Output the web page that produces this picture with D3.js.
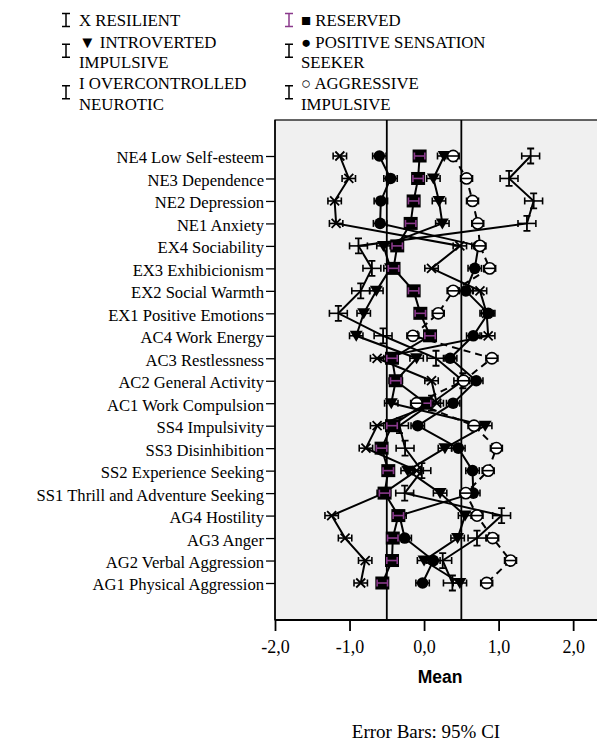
<!DOCTYPE html>
<html><head><meta charset="utf-8">
<script src="https://cdn.jsdelivr.net/npm/d3@7"></script>
<style>body{margin:0;background:#fff;} svg{display:block;}</style>
</head><body>
<svg id="chart" width="597" height="741"></svg>
<script>
// ---------- data ----------
const categories = ["NE4 Low Self-esteem","NE3 Dependence","NE2 Depression","NE1 Anxiety",
  "EX4 Sociability","EX3 Exhibicionism","EX2 Social Warmth","EX1 Positive Emotions",
  "AC4 Work Energy","AC3 Restlessness","AC2 General Activity","AC1 Work Compulsion",
  "SS4 Impulsivity","SS3 Disinhibition","SS2 Experience Seeking","SS1 Thrill and Adventure Seeking",
  "AG4 Hostility","AG3 Anger","AG2 Verbal Aggression","AG1 Physical Aggression"];

const resilient      = [-1.13,-1.01,-1.20,-1.18, 0.48, 0.10, 0.75, 0.84, 0.86,-0.63, 0.10, 0.17,-0.63,-0.78,-0.10,-0.54,-1.24,-1.06,-0.79,-0.85];
const introverted    = [ 0.27, 0.125,0.20, 0.245,-0.545,-0.45,-0.64,-0.81,-0.91,-0.10,-0.38,-0.44, 0.82, 0.28,-0.22, 0.215,0.55, 0.45, 0.00, 0.48];
const overcontrolled = [ 1.43, 1.14, 1.47, 1.38,-0.88,-0.70,-0.85,-1.15,-0.55, 0.16, 0.52, 0.10,-0.33,-0.255,-0.03,-0.26, 1.04, 0.71, 0.25, 0.38];
const sensation      = [-0.60,-0.45,-0.58,-0.59, 0.73, 0.68, 0.56, 0.86, 0.66, 0.35, 0.70, 0.39,-0.085,0.46, 0.65, 0.66,-0.33,-0.26, 0.125,-0.02];
const reserved       = [-0.06,-0.08,-0.14,-0.18,-0.36,-0.41,-0.14,-0.05, 0.08,-0.43,-0.38, 0.02,-0.43,-0.57,-0.48,-0.53,-0.345,-0.42,-0.43,-0.56];
const aggressive     = [ 0.39, 0.57, 0.65, 0.72, 0.75, 0.88, 0.39, 0.19,-0.15, 0.91, 0.53,-0.10, 0.67, 0.97, 0.86, 0.56, 0.71, 0.92, 1.16, 0.84];

// approximate 95% CI half-width per series
const ciResilient = 0.09, ciIntroverted = 0.09, ciOvercontrolled = 0.12, ciSensation = 0.09, ciReserved = 0.07, ciAggressive = 0.08;

const xTicks = [-2, -1, 0, 1, 2];
const refLines = [-0.5, 0.5];

const legendCol1 = [["X RESILIENT"], ["\u25BC INTROVERTED","IMPULSIVE"], ["I OVERCONTROLLED","NEUROTIC"]];
const legendCol2 = [["\u25A0 RESERVED"], ["\u25CF POSITIVE SENSATION","SEEKER"], ["\u25CB AGGRESSIVE","IMPULSIVE"]];

// ---------- setup ----------
const svg = d3.select("#chart");
const purple = "#8a3a8c";
const serif = "'Liberation Serif','Times New Roman',serif";
const pLeft = 275, pTop = 120, pBottom = 620, pRight = 597;
const x = d3.scaleLinear().domain([-2, 2.32]).range([pLeft, pRight]);
const y = d3.scalePoint().domain(categories).range([156, 583]);

const series = [
  {vals: resilient, ci: ciResilient, mk: "cross", bar: "#000"},
  {vals: introverted, ci: ciIntroverted, mk: "tri", bar: "#000"},
  {vals: overcontrolled, ci: ciOvercontrolled, mk: "ibeam", bar: "#000"},
  {vals: sensation, ci: ciSensation, mk: "dot", bar: "#000"},
  {vals: reserved, ci: ciReserved, mk: "square", bar: purple},
  {vals: aggressive, ci: ciAggressive, mk: "ring", bar: "#000", dashed: true}
];

// plot background
svg.append("rect").attr("x", pLeft).attr("y", pTop).attr("width", pRight - pLeft + 10).attr("height", pBottom - pTop)
  .attr("fill", "#f0f0f0").attr("stroke", "#000").attr("stroke-width", 1.2);

// reference lines
svg.selectAll(".ref").data(refLines).join("line")
  .attr("x1", d => x(d)).attr("x2", d => x(d)).attr("y1", pTop).attr("y2", pBottom)
  .attr("stroke", "#000").attr("stroke-width", 1.8);

// left category axis
const yAxis = d3.axisLeft(y).tickSize(9).tickPadding(2);
const gy = svg.append("g").attr("transform", `translate(${pLeft},0)`).call(yAxis);
gy.select(".domain").attr("stroke", "#000").attr("stroke-width", 1.5).attr("d", `M0,${pTop}V${pBottom}`);
gy.selectAll(".tick line").attr("stroke", "#000").attr("stroke-width", 1.3);
gy.selectAll(".tick text").attr("font-family", serif)
  .attr("font-size", 16.6).attr("fill", "#000").attr("dy", "0.42em");

// bottom axis
const xAxis = d3.axisBottom(x).tickValues(xTicks).tickSize(11).tickPadding(9)
  .tickFormat(d => (d < 0 ? "-" : "") + Math.abs(d).toFixed(1).replace(".", ","));
const gx = svg.append("g").attr("transform", `translate(0,${pBottom})`).call(xAxis);
gx.select(".domain").attr("stroke", "#000").attr("stroke-width", 1.8).attr("d", `M${pLeft},0H${pRight}`);
gx.selectAll(".tick line").attr("stroke", "#000").attr("stroke-width", 1.8);
gx.selectAll(".tick text").attr("font-family", serif)
  .attr("font-size", 18).attr("fill", "#000");

svg.append("text").attr("x", 440).attr("y", 683).attr("text-anchor", "middle")
  .attr("font-family", "'Liberation Sans',Arial,sans-serif").attr("font-weight", "bold").attr("font-size", 17.5)
  .text("Mean");
svg.append("text").attr("x", 426).attr("y", 738).attr("text-anchor", "middle")
  .attr("font-family", serif).attr("font-size", 19)
  .text("Error Bars: 95% CI");

// series lines
const line = d3.line().x(d => x(d.v)).y(d => y(d.c));
series.forEach(s => {
  const pts = s.vals.map((v, i) => ({v, c: categories[i]}));
  svg.append("path").datum(pts).attr("d", line).attr("fill", "none")
    .attr("stroke", "#000").attr("stroke-width", 2)
    .attr("stroke-dasharray", s.dashed ? "7,5" : null);
});

// markers + error bars
const markerPath = {
  cross: "M-4.5,-4.5L4.5,4.5M-4.5,4.5L4.5,-4.5",
  tri: "M-6.5,-5L6.5,-5L0,6Z",
  ibeam: "M0,-7.5V7.5M-3.5,-7.5H3.5M-3.5,7.5H3.5"
};
series.forEach(s => {
  const g = svg.append("g");
  const pts = s.vals.map((v, i) => ({v, c: categories[i], lo: v - s.ci, hi: v + s.ci}));
  const m = g.selectAll("g.pt").data(pts).join("g").attr("transform", d => `translate(${x(d.v)},${y(d.c)})`);
  if (s.mk === "cross" || s.mk === "ibeam") {
    m.append("path").attr("d", markerPath[s.mk]).attr("stroke", "#000").attr("stroke-width", 1.8).attr("fill", "none");
  } else if (s.mk === "tri") {
    m.append("path").attr("d", markerPath.tri).attr("fill", "#000");
  } else if (s.mk === "dot") {
    m.append("circle").attr("r", 5.8).attr("fill", "#000");
  } else if (s.mk === "square") {
    m.append("rect").attr("x", -7).attr("y", -6.5).attr("width", 14).attr("height", 13).attr("fill", "#000");
  } else if (s.mk === "ring") {
    m.append("circle").attr("r", 5.6).attr("fill", "#fff").attr("stroke", "#000").attr("stroke-width", 1.6);
  }
  const eb = g.selectAll("g.eb").data(pts).join("g").attr("stroke", s.bar).attr("stroke-width", 1.6);
  eb.append("line").attr("x1", d => x(d.lo)).attr("x2", d => x(d.hi)).attr("y1", d => y(d.c)).attr("y2", d => y(d.c));
  eb.append("line").attr("x1", d => x(d.lo)).attr("x2", d => x(d.lo)).attr("y1", d => y(d.c) - 3.5).attr("y2", d => y(d.c) + 3.5);
  eb.append("line").attr("x1", d => x(d.hi)).attr("x2", d => x(d.hi)).attr("y1", d => y(d.c) - 3.5).attr("y2", d => y(d.c) + 3.5);
});

// legend
const legendBaselines = [[26], [47.5, 68], [89, 109.5]];
function drawLegend(col, iconX, textX, colors) {
  col.forEach((lines, i) => {
    const bl = legendBaselines[i];
    const cy = lines.length === 1 ? bl[0] - 6 : (bl[0] + bl[1]) / 2 - 7;
    svg.append("path").attr("d", `M${iconX},${cy - 6.5}V${cy + 6.5}M${iconX - 4},${cy - 6.5}H${iconX + 4}M${iconX - 4},${cy + 6.5}H${iconX + 4}`)
      .attr("stroke", colors[i]).attr("stroke-width", 1.5).attr("fill", "none");
    lines.forEach((t, j) => {
      svg.append("text").attr("x", textX).attr("y", bl[j])
        .attr("font-family", serif).attr("font-size", 16.8)
        .text(t);
    });
  });
}
drawLegend(legendCol1, 66, 79, ["#000", "#000", "#000"]);
drawLegend(legendCol2, 289, 301, [purple, "#000", "#000"]);
</script>
</body></html>
